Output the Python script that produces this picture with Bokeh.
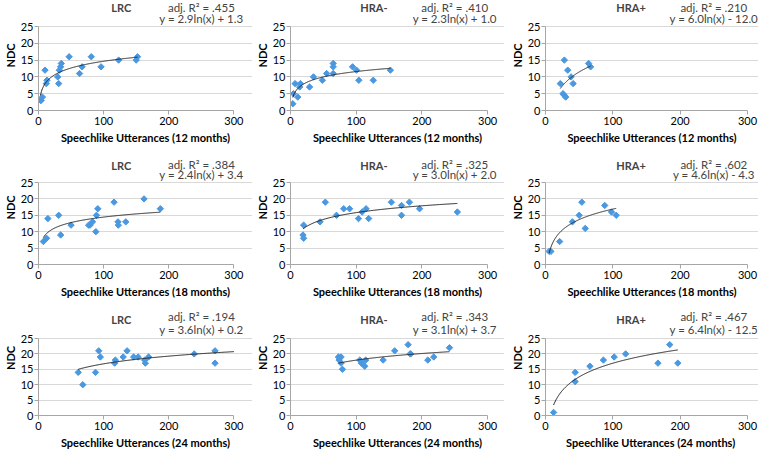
import numpy as np
from bokeh.plotting import figure
from bokeh.models import Range1d, FixedTicker, Label, Title
from bokeh.layouts import column, row
from bokeh.embed import file_html
from bokeh.resources import INLINE

# ---------------- data ----------------
groups = ["LRC", "HRA-", "HRA+"]
ages = ["12", "18", "24"]

lrc12_x = [3, 4, 6, 10, 12, 13, 29.5, 31, 32, 34, 35, 47, 63, 67, 81, 96, 123, 150, 152]
lrc12_y = [3, 3, 4, 12, 8, 9, 10, 8, 12, 13, 14, 16, 11, 13, 16, 13, 15, 15, 16]
hra12_x = [3.5, 4.5, 7, 11, 14, 15, 29, 35, 48.5, 55, 65, 65, 65, 94.5, 100.5, 104, 126, 152]
hra12_y = [2, 5, 8, 4, 7, 8, 7, 10, 9, 11, 14, 13, 11, 13, 12, 9, 9, 12]
hrap12_x = [22, 28, 26, 28, 30, 33, 38, 41, 64, 67]
hrap12_y = [8, 15, 5, 4.5, 4, 12, 10, 8, 14, 13]

lrc18_x = [7.5, 12.4, 14.4, 31, 34, 50, 77, 79, 83, 88, 89, 91, 116, 122, 122.5, 134, 162, 187]
lrc18_y = [7, 8, 14, 15, 9, 12, 12, 12, 13, 10, 15, 17, 19, 13, 12, 13, 20, 17]
hra18_x = [19, 20, 20, 45, 53, 70, 81, 90, 103.5, 109, 115, 119, 153.5, 169, 169, 181, 196.5, 254]
hra18_y = [9, 8, 12, 13, 19, 15, 17, 17, 14, 16, 17, 14, 19, 18, 15, 19, 17, 16]
hrap18_x = [5.4, 8, 21, 40, 50, 54, 59, 88, 98, 105]
hrap18_y = [4, 4, 7, 13, 15, 19, 11, 18, 16, 15]

lrc24_x = [61, 68, 87.5, 92.5, 95, 117, 118, 130, 136, 146, 153, 163, 164, 169, 239, 271, 271]
lrc24_y = [14, 10, 14, 21, 19, 17, 18, 19, 21, 19, 19, 18, 17, 19, 20, 21, 17]
hra24_x = [73, 77, 74, 77, 79, 105.5, 108, 109, 113, 114.5, 141, 158.6, 179, 182, 183, 209, 218, 242]
hra24_y = [19, 19, 18, 17, 15, 18, 17, 17, 16, 18, 18, 21, 23, 20, 20, 18, 19, 22]
hrap24_x = [12, 44, 44, 66, 86, 102, 119, 167, 184.5, 196.5]
hrap24_y = [1, 14, 11, 16, 18, 19, 20, 17, 23, 17]

# log trend line coefficients  y = a ln(x) + b
trend_a = [2.9, 2.3, 6.0, 2.4, 3.0, 4.6, 3.6, 3.1, 6.4]
trend_b = [1.3, 1.0, -12.0, 3.4, 2.0, -4.3, 0.2, 3.7, -12.5]
trend_end = [None, None, None, None, None, None, 300, None, None]
adj_r2 = [".455", ".410", ".210", ".384", ".325", ".602", ".194", ".343", ".467"]
equations = ["y = 2.9ln(x) + 1.3", "y = 2.3ln(x) + 1.0", "y = 6.0ln(x) - 12.0",
             "y = 2.4ln(x) + 3.4", "y = 3.0ln(x) + 2.0", "y = 4.6ln(x) - 4.3",
             "y = 3.6ln(x) + 0.2", "y = 3.1ln(x) + 3.7", "y = 6.4ln(x) - 12.5"]
x_titles = ["Speechlike Utterances (12 months)"] * 3 + ["Speechlike Utterances (18 months)"] * 3 + \
           ["Speechlike Utterances (24 months)"] * 2 + ["Speechlike Utterances  (24 months)"]
x_ticks = [0, 100, 200, 300]
y_ticks = [0, 5, 10, 15, 20, 25]
X_MAX = 300
Y_MAX = 25

xs_all = [lrc12_x, hra12_x, hrap12_x, lrc18_x, hra18_x, hrap18_x, lrc24_x, hra24_x, hrap24_x]
ys_all = [lrc12_y, hra12_y, hrap12_y, lrc18_y, hra18_y, hrap18_y, lrc24_y, hra24_y, hrap24_y]

# ---------------- layout / style ----------------
FONT = "Lato"
col_w = [252, 252, 254]
col_left = [33, 37, 41]
col_right = [19, 17, 11]    # px from the 300 line to figure right edge
row_h = [150, 150, 151]
row_top = [26, 32, 38]      # px from figure top to the 25 gridline
row_bottom = [40, 36, 36]
title_off = [19, 17, 19]
line1_off = [19, 18, 22]
line2_off = [8, 8, 9]

POINT = "#4a98e0"
GRID = "#d9d9d9"
AXIS = "#a6a6a6"


def ttl(text, side_off, size="11px"):
    return Title(text=text, align="center", offset=side_off, standoff=2,
                 text_font=FONT, text_font_size=size, text_font_style="bold",
                 text_color="black")


rows = []
for r in range(3):
    figs = []
    for c in range(3):
        i = r * 3 + c
        frame_h = row_h[r] - row_bottom[r]
        plot_h = frame_h - row_top[r]
        upx = Y_MAX / plot_h
        y_top = Y_MAX * frame_h / plot_h
        frame_w = col_w[c] - col_left[c]
        plot_w = frame_w - col_right[c]
        x_end = X_MAX * frame_w / plot_w
        p = figure(width=col_w[c], height=row_h[r], output_backend="svg", toolbar_location=None,
                   x_range=Range1d(0, x_end), y_range=Range1d(0, y_top),
                   min_border_left=col_left[c], min_border_right=0,
                   min_border_top=0, min_border_bottom=row_bottom[r])
        p.outline_line_color = None
        p.background_fill_color = "white"
        p.border_fill_color = "white"
        p.xgrid.grid_line_color = None
        p.ygrid.grid_line_color = GRID
        p.ygrid.bounds = (0, X_MAX)
        p.xaxis.ticker = FixedTicker(ticks=x_ticks)
        p.yaxis.ticker = FixedTicker(ticks=y_ticks)
        p.xaxis.bounds = (0, X_MAX)
        p.yaxis.bounds = (0, Y_MAX)
        for ax in (p.xaxis[0], p.yaxis[0]):
            ax.axis_line_color = AXIS
            ax.major_tick_line_color = AXIS
            ax.major_tick_in = 0
            ax.major_tick_out = 4
            ax.minor_tick_line_color = None
            ax.major_label_text_font = FONT
            ax.major_label_text_font_size = "11px"
            ax.major_label_text_color = "black"
        p.xaxis.major_label_standoff = 2
        p.yaxis.major_label_standoff = 1
        p.add_layout(ttl("NDC", -row_top[r] / 2), "left")
        p.add_layout(ttl(x_titles[i], -col_right[c] / 2), "below")

        x = np.array(xs_all[i], dtype=float)
        y = np.array(ys_all[i], dtype=float)
        x_hi = trend_end[i] if trend_end[i] is not None else x.max()
        tx = np.linspace(x.min(), x_hi, 200)
        ty = trend_a[i] * np.log(tx) + trend_b[i]
        p.scatter(x, y, marker="square", angle=np.pi / 4, size=4.5, line_width=1,
                  fill_color=POINT, line_color=POINT)
        p.line(tx, ty, line_color="#222222", line_width=1)

        p.add_layout(Label(x=127, y=Y_MAX + title_off[r] * upx, text=groups[c],
                           text_font=FONT, text_font_size="11px", text_font_style="bold",
                           text_align="center", text_baseline="middle"))
        p.add_layout(Label(x=250, y=Y_MAX + line1_off[r] * upx, text="adj. R\u00b2 = " + adj_r2[i],
                           text_font=FONT, text_font_size="11.5px",
                           text_align="center", text_baseline="middle"))
        p.add_layout(Label(x=250, y=Y_MAX + line2_off[r] * upx, text=equations[i],
                           text_font=FONT, text_font_size="11.5px",
                           text_align="center", text_baseline="middle"))
        figs.append(p)
    rows.append(row(*figs))

layout = column(*rows)
open("out.html", "w").write(file_html(layout, INLINE))
